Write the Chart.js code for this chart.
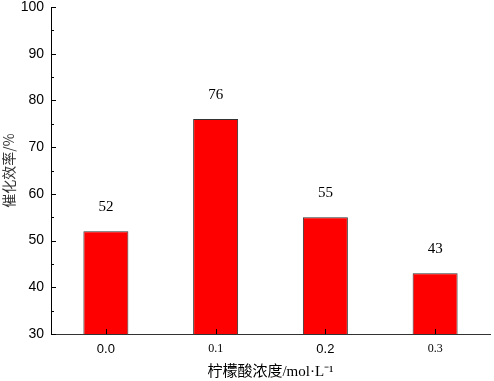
<!DOCTYPE html>
<html>
<head>
<meta charset="utf-8">
<title>催化效率</title>
<script src="https://cdn.jsdelivr.net/npm/chart.js@4.4.0/dist/chart.umd.min.js"></script>
<style>
  html, body { margin: 0; padding: 0; background: #fff; }
  #wrap { width: 494px; height: 381px; }
</style>
</head>
<body>
<div id="wrap"><canvas id="myChart" width="494" height="381"></canvas></div>
<script>
const categories = ['0.0', '0.1', '0.2', '0.3'];
const efficiency = [52, 76, 55, 43];
const yMin = 30, yMax = 100, yStep = 10;

const sansFont = { family: 'Arial, "Liberation Sans", sans-serif', size: 13 };
const serifFont = { family: '"Times New Roman", "Liberation Serif", serif', size: 12 };

// inward ticks, like the original plot
const innerTicks = {
  id: 'innerTicks',
  afterDraw(chart) {
    const ctx = chart.ctx;
    const x = chart.scales.x, y = chart.scales.y;
    ctx.save();
    ctx.strokeStyle = '#000';
    ctx.lineWidth = 1;
    ctx.beginPath();
    for (let v = yMin; v <= yMax; v += yStep / 2) {
      const py = Math.round(y.getPixelForValue(v)) + 0.5;
      const len = (v % yStep === 0) ? 5 : 3;
      ctx.moveTo(y.right, py);
      ctx.lineTo(y.right + len, py);
    }
    categories.forEach((c, i) => {
      const px = Math.round(x.getPixelForValue(i)) + 0.5;
      ctx.moveTo(px, x.top);
      ctx.lineTo(px, x.top - 5);
    });
    ctx.stroke();
    ctx.restore();
  }
};

// value labels above the bars
const barLabels = {
  id: 'barLabels',
  afterDatasetsDraw(chart) {
    const ctx = chart.ctx;
    const meta = chart.getDatasetMeta(0);
    ctx.save();
    ctx.fillStyle = '#000';
    ctx.font = '15px "Times New Roman", "Liberation Serif", serif';
    ctx.textAlign = 'center';
    ctx.textBaseline = 'middle';
    meta.data.forEach((bar, i) => {
      ctx.fillText(efficiency[i], bar.x, bar.y - 24);
    });
    ctx.restore();
  }
};

new Chart(document.getElementById('myChart'), {
  type: 'bar',
  data: {
    labels: categories,
    datasets: [{
      data: efficiency,
      backgroundColor: '#ff0000',
      borderColor: '#333333',
      borderWidth: 1,
      borderSkipped: false,
      barPercentage: 0.41,
      categoryPercentage: 1
    }]
  },
  options: {
    responsive: false,
    animation: false,
    layout: { padding: { top: 7, right: 4, left: 0, bottom: 0 } },
    plugins: {
      legend: { display: false },
      tooltip: { enabled: false }
    },
    scales: {
      x: {
        grid: { display: false, drawTicks: false },
        border: { display: true, color: '#333', width: 1 },
        ticks: {
          padding: 8,
          color: '#000',
          font: ctx => (ctx.index % 2 === 1 ? serifFont : sansFont)
        },
        title: {
          display: true,
          text: '柠檬酸浓度/mol·L⁻¹',
          color: '#000',
          font: { family: '"Times New Roman", "Liberation Serif", "Noto Sans CJK SC", serif', size: 15 },
          padding: { top: 4, bottom: 0 }
        },
        afterFit(scale) { scale.height = 47; scale.paddingLeft = 0; scale.paddingRight = 0; }
      },
      y: {
        min: yMin,
        max: yMax,
        ticks: {
          stepSize: yStep,
          padding: 7,
          color: '#000',
          font: { family: 'Arial, "Liberation Sans", sans-serif', size: 14 }
        },
        grid: { display: false, drawTicks: false },
        border: { display: true, color: '#000', width: 1 },
        title: {
          display: true,
          text: '催化效率/%',
          color: '#333',
          font: { family: '"Noto Sans CJK SC", Arial, sans-serif', size: 14 },
          padding: { top: 0, bottom: 4 }
        },
        afterFit(scale) { scale.width = 51; scale.paddingTop = 0; scale.paddingBottom = 0; }
      }
    }
  },
  plugins: [innerTicks, barLabels]
});
</script>
</body>
</html>
